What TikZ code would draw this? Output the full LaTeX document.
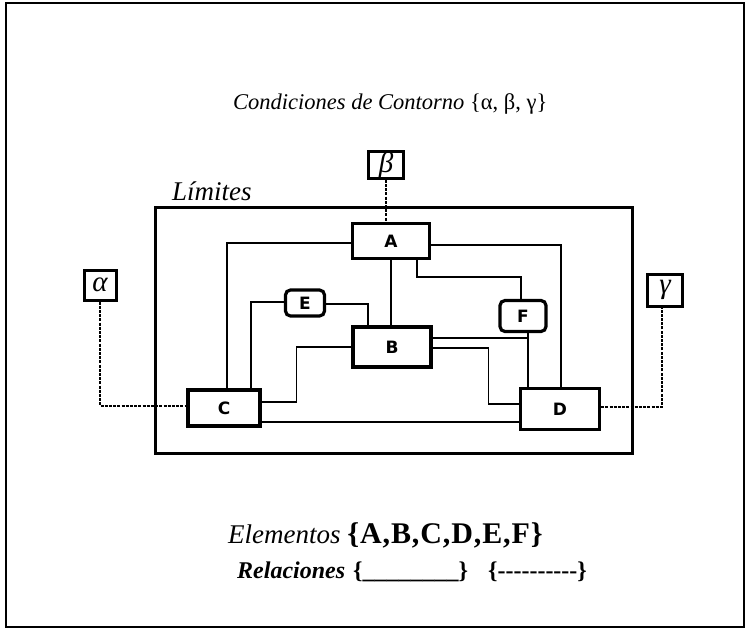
\documentclass[tikz,border=0pt]{standalone}
\usepackage{fontspec}
\setmainfont{Liberation Serif}
\newfontfamily\boxfont{DejaVu Sans}
\newcommand\hy{\mbox{-}}
\begin{document}
\begin{tikzpicture}[x=1pt,y=-1pt,
  elem/.style={draw,line width=3.2pt,inner sep=0pt,
    font=\boxfont\bfseries\fontsize{17}{17}\selectfont},
  relem/.style={elem,rounded corners=5pt},
  bcond/.style={draw,line width=3pt,inner sep=0pt,
    font=\fontsize{29}{29}\selectfont\itshape},
  limbox/.style={draw,line width=3pt,inner sep=0pt},
  conn/.style={line width=1.4pt},
  dconn/.style={line width=1.3pt,dash pattern=on 3pt off 1.2pt},
  ttl/.style={inner sep=0pt,anchor=base west}
]
\useasboundingbox (0,0) rectangle (747,630);
\node[draw,line width=1.6pt,minimum width=738pt,minimum height=624pt,inner sep=0pt] (frame) at (375,315) {};

% boundary
\node[limbox,minimum width=477pt,minimum height=246pt] (lim) at (393.5,330) {};
\node[ttl,font=\fontsize{27}{27}\selectfont\itshape] (limtxt) at (172,200) {Límites};

% elements
\node[elem,minimum width=77pt,minimum height=35pt] (A) at (391,241) {A};
\node[elem,minimum width=78pt,minimum height=40pt] (B) at (392,347) {B};
\node[elem,minimum width=72pt,minimum height=36pt] (C) at (224,408) {C};
\node[elem,minimum width=79pt,minimum height=41pt] (D) at (560,409) {D};
\node[relem,minimum width=39pt,minimum height=26pt] (E) at (305,303) {E};
\node[relem,minimum width=46pt,minimum height=31pt] (F) at (523,316) {F};

% boundary conditions
\node[bcond,minimum width=32pt,minimum height=30pt] (alpha) at (100,285) {α};
\node[bcond,minimum width=35pt,minimum height=26pt] (beta) at (386,165) {β};
\node[bcond,minimum width=35pt,minimum height=32pt] (gamma) at (665,290) {γ};

% dashed relations
\draw[dconn] (beta.south) -- (beta.south |- A.north);
\draw[dconn] (alpha.south) |- ([yshift=2pt]C.west);
\draw[dconn] ([yshift=2pt]D.east) -| ([xshift=-3pt]gamma.south);

% solid relations
\draw[conn] ([yshift=-2pt]A.west) -| ([xshift=3pt]C.north);
\draw[conn] ([xshift=27pt]C.north) |- ([yshift=1pt]E.west);
\draw[conn] ([yshift=-1pt]E.east) -| ([xshift=-24pt]B.north);
\draw[conn] (A.south) -- (A.south |- B.north);
\draw[conn] (B.west) -- ++(-55,0) |- ([yshift=6pt]C.east);
\draw[conn] ([yshift=-14pt]C.east) coordinate (cd) -- (D.west |- cd);
\draw[conn] ([yshift=-4pt]A.east) -| ([xshift=1pt]D.north);
\draw[conn] ([xshift=26pt]A.south) -- ++(0,17) -| ([xshift=-2pt]F.north);
\coordinate (fd) at ([xshift=5pt]F.south);
\draw[conn] (fd) -- (fd |- D.north);
\draw[conn] ([yshift=9pt]B.east) coordinate (bf) -- (bf -| fd);
\draw[conn] ([yshift=-1pt]B.east) -- ++(56,0) |- ([yshift=5pt]D.west);

% texts
\node[ttl,font=\fontsize{22.5}{22.5}\selectfont] (cond) at (233,109)
  {\textit{Condiciones de Contorno} \{α, β, γ\}};
\node[ttl] (elems) at (228,543)
  {\fontsize{27}{27}\selectfont\textit{Elementos} \fontsize{30}{30}\selectfont\bfseries\addfontfeature{LetterSpace=3}\{A,B,C,D,E,F\}};
\node[ttl,font=\fontsize{24}{24}\selectfont\bfseries] (rels) at (237,578)
  {\textit{Relaciones}\hspace{8pt}\{\_\_\_\_\_\_\_\_\}\hspace{20pt}\{\hy\hy\hy\hy\hy\hy\hy\hy\hy\hy\}};
\end{tikzpicture}
\end{document}
